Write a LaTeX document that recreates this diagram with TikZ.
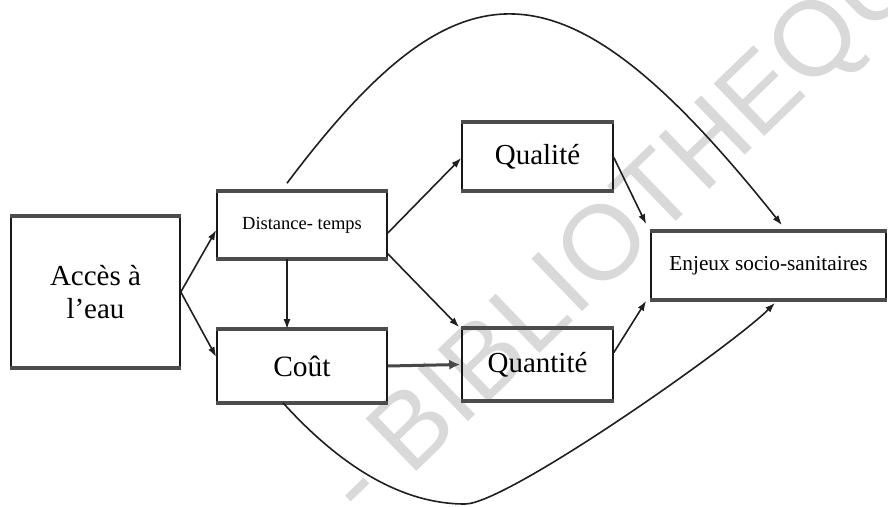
\documentclass[tikz,border=0pt]{standalone}
\usepackage{fontspec}
\setmainfont{Liberation Serif}
\newfontfamily\wmfont{Liberation Sans}
\usetikzlibrary{arrows.meta}

\begin{document}
\begin{tikzpicture}[x=1pt, y=-1pt, line join=round,
		box/.style={draw=black!90, line width=1.6pt, inner sep=0pt, align=center},
		band/.style={draw=black!70, line width=3.8pt},
		link/.style={draw=black!88, line width=1.6pt, -{Latex[length=10pt,width=7pt]}}]
		\useasboundingbox (0,0) rectangle (888,506);
		
		% filigrane
		\begin{scope}
		\clip (0,0) rectangle (888,506);
		\node[text=black!15, inner sep=0pt, anchor=base west, rotate=44,
		font=\wmfont\fontsize{106}{106}\selectfont] (wm) at (364,523) {- BIBLIOTHEQUE};
		\end{scope}
		
		\node[box, minimum width=169pt, minimum height=150pt, font=\fontsize{29}{33}\selectfont] (acces) at (95.5,292) {Accès à\\l'eau};
		\node[box, minimum width=170pt, minimum height=66pt, font=\fontsize{18.5}{22}\selectfont] (dist) at (302,225) {Distance- temps};
		\node[box, minimum width=170pt, minimum height=72pt, font=\fontsize{29.5}{33}\selectfont] (cout) at (302,366) {Coût};
		\node[box, minimum width=151pt, minimum height=67pt, font=\fontsize{29}{33}\selectfont] (qual) at (537.5,156.5) {Qualité};
		\node[box, minimum width=151pt, minimum height=71pt, font=\fontsize{29}{33}\selectfont] (quant) at (537.5,364.5) {Quantité};
		\node[box, minimum width=235pt, minimum height=67pt, font=\fontsize{21.3}{25}\selectfont] (enjeux) at (768.5,265.5) {Enjeux socio-sanitaires};
		
		% bords haut et bas plus epais
		\foreach \n in {acces,dist,cout,qual,quant,enjeux}
		{
			\draw[band] (\n.north west) -- (\n.north east);
			\draw[band] (\n.south west) -- (\n.south east);
		}
		
		\draw[link] (acces.east) -- ([yshift=-5pt]dist.west);
		\draw[link] (acces.east) -- ([yshift=9pt]cout.west);
		\draw[link] ([xshift=-15pt]dist.south) -- ([xshift=-15pt]cout.north);
		\draw[link, line width=3pt, draw=black!72, -{Latex[length=11pt,width=10pt]}] (cout.east) -- ([xshift=-1pt]quant.west);
		\draw[link] ([yshift=-8pt]dist.east) -- ([yshift=-1.5pt]qual.west);
		\draw[link] ([yshift=5pt]dist.south east) -- ([xshift=-2pt,yshift=1pt]quant.north west);
		\draw[link] ([yshift=-1pt]qual.east) -- ([xshift=-4pt,yshift=7pt]enjeux.north west);
		\draw[link] ([yshift=12pt]quant.east) -- ([xshift=-4pt,yshift=-1pt]enjeux.south west);
		
		% les deux grands arcs
		\coordinate (dip) at (465,504);
		\draw[link] ([xshift=-15pt,yshift=8pt]dist.north) .. controls (461,-48) and (564,-48) .. ([xshift=13.5pt,yshift=6pt]enjeux.north);
		\draw[link] ([xshift=-19pt]cout.south) .. controls (333,458) and (395,504) .. (dip)
		.. controls (507,504) and (733,345) .. ([xshift=6.5pt,yshift=-3pt]enjeux.south);
		
\end{tikzpicture}
\end{document}
